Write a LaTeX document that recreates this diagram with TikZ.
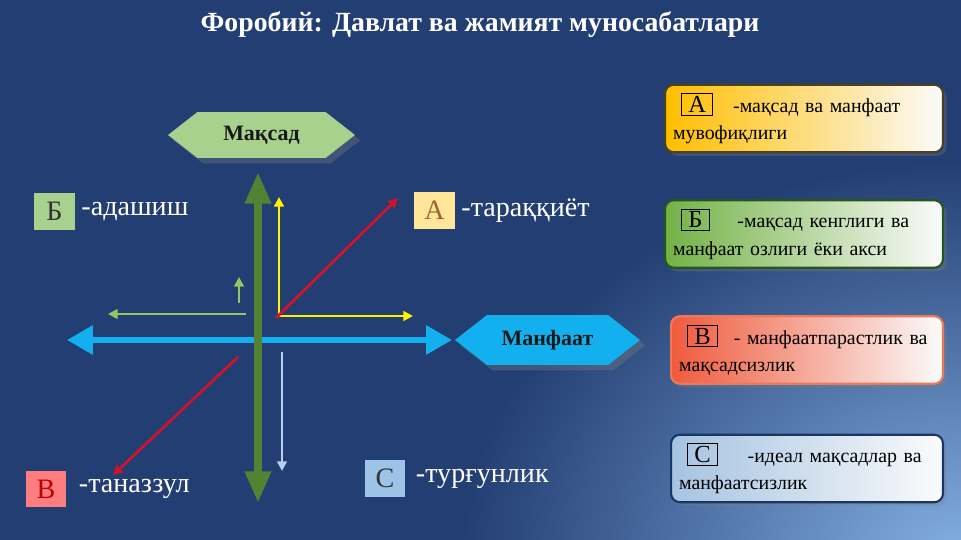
\documentclass[tikz,border=0pt]{standalone}
\usepackage{fontspec}
\setmainfont{Liberation Serif}
\usetikzlibrary{shapes.symbols, arrows.meta, positioning, shadows}

\definecolor{bgblue}{RGB}{35,62,114}
\definecolor{bglight}{RGB}{132,176,228}
\definecolor{goalgreen}{RGB}{169,209,142}
\definecolor{axisgreen}{RGB}{84,130,53}
\definecolor{benefitcyan}{RGB}{18,176,238}
\definecolor{palegreen}{RGB}{146,200,100}
\definecolor{arrowred}{RGB}{205,20,45}
\definecolor{paleblue}{RGB}{185,205,240}
\definecolor{lblgold}{RGB}{255,230,153}
\definecolor{lblred}{RGB}{255,124,128}
\definecolor{lblblue}{RGB}{157,195,230}

\newcommand{\bigfont}{\rmfamily\fontsize{16}{19}\selectfont}
\newcommand{\descfont}{\rmfamily\fontsize{11.3}{15.5}\selectfont}
\newcommand{\letterbox}[1]{{\setlength{\fboxsep}{1.2pt}\setlength{\fboxrule}{0.6pt}\hspace*{0.4em}\fbox{\fontsize{14}{14}\selectfont\,#1\,}}}

\tikzstyle{hexa} = [signal, signal to=east and west, signal pointer angle=76,
inner sep=0pt, font=\bfseries\fontsize{12.5}{15}\selectfont, text=black!90,
drop shadow={shadow xshift=3pt, shadow yshift=-3pt, opacity=0.35}]
\tikzstyle{letter} = [rectangle, minimum width=0.82cm, minimum height=0.74cm,
inner sep=0pt, font=\bigfont]
\tikzstyle{lbltext} = [text=white, font=\bigfont, inner sep=1pt, anchor=west]
\tikzstyle{descbox} = [rectangle, rounded corners=5pt, line width=1.2pt,
minimum width=5.56cm, minimum height=1.35cm, text width=5.24cm, align=left,
inner xsep=0.16cm, font=\descfont, text=black, anchor=west,
middle color=white!70!gray, right color=white!97!gray,
drop shadow={shadow xshift=2pt, shadow yshift=-2pt, opacity=0.3}]
\tikzstyle{thinarrow} = [line width=1.6pt, -{Triangle[length=5.5pt, width=5.5pt]}]

\begin{document}
\begin{tikzpicture}[x=0.02cm, y=-0.02cm]

% Background
\fill[bgblue] (0,0) rectangle (961,540);
\begin{scope}
\clip (0,0) rectangle (961,540);
\shade[inner color=bglight, outer color=bgblue] (961,560) ellipse (10cm and 8cm);
\end{scope}
\useasboundingbox (0,0) rectangle (961,540);

% Title
\node[text=white, font=\bfseries\fontsize{15.8}{18}\selectfont] (title) at (480,25)
{Форобий: Давлат ва жамият муносабатлари};

% Axis labels
\node[hexa, fill=goalgreen, minimum width=3.74cm, minimum height=0.92cm] (goal) at (261.5,135) {Мақсад};
\node[hexa, fill=benefitcyan, minimum width=3.7cm, minimum height=1cm] (benefit) at (547.5,340) {Манфаат};

% Coordinates
\coordinate (gtop) at (258,172);
\coordinate (gbot) at (258,503);
\coordinate (bleft) at (67,340);
\coordinate (bright) at (452,340);
\coordinate (yo) at (279,316);
\coordinate (yup) at (279,197);
\coordinate (yright) at (413,316);
\coordinate (ro) at (276,318);
\coordinate (rend) at (398,198);
\coordinate (go) at (246,314);
\coordinate (gleft) at (108,314);
\coordinate (gs) at (239,303);
\coordinate (gsup) at (239,277);
\coordinate (ro2) at (238,357);
\coordinate (rend2) at (113,475);
\coordinate (po) at (282,352);
\coordinate (pend) at (282,471);

% Arrows
\draw[benefitcyan, line width=3.4pt, {Triangle[length=14.7pt, width=15.9pt]}-{Triangle[length=14.7pt, width=15.9pt]}] (bleft) -- (bright);
\draw[axisgreen, line width=4.5pt, {Triangle[length=18pt, width=14pt]}-{Triangle[length=18pt, width=14pt]}] (gbot) -- (gtop);
\draw[thinarrow, yellow] (yo) -- (yup);
\draw[thinarrow, yellow] (yo) -- (yright);
\draw[thinarrow, arrowred] (ro) -- (rend);
\draw[thinarrow, palegreen] (go) -- (gleft);
\draw[thinarrow, palegreen] (gs) -- (gsup);
\draw[thinarrow, arrowred] (ro2) -- (rend2);
\draw[thinarrow, paleblue] (po) -- (pend);

% Quadrant labels
\node[letter, fill=goalgreen, text=black!80] (lblB) at (54.5,211.5) {Б};
\node[lbltext, right=0.08cm of lblB] (txtB) {-адашиш};
\node[letter, fill=lblgold, text=brown!80!black] (lblA) at (434.5,210.5) {А};
\node[lbltext, right=0.08cm of lblA] (txtA) {-тараққиёт};
\node[letter, fill=lblred, text=red!75!black] (lblV) at (46,489) {В};
\node[lbltext, right=0.2cm of lblV] (txtV) {-таназзул};
\node[letter, fill=lblblue, text=black!80] (lblC) at (385,478.5) {С};
\node[lbltext, right=0.16cm of lblC] (txtC) {-турғунлик};

% Legend
\node[descbox, draw={rgb,255:red,75;green,65;blue,30}, left color={rgb,255:red,255;green,190;blue,0}] (descA) at (664,118.5)
{\letterbox{А}\hspace{1em}-мақсад ва манфаат\\мувофиқлиги};
\node[descbox, draw={rgb,255:red,40;green,85;blue,30}, left color={rgb,255:red,115;green,178;blue,70}] (descB) at (664,234)
{\letterbox{Б}\hspace{1.4em}-мақсад кенглиги ва\\манфаат озлиги ёки акси};
\node[descbox, minimum width=5.44cm, text width=5.12cm, draw={rgb,255:red,240;green,120;blue,90}, left color={rgb,255:red,240;green,90;blue,60}] (descV) at (670,350)
{\letterbox{В}\hspace{0.8em}- манфаатпарастлик ва\\мақсадсизлик};
\node[descbox, minimum width=5.44cm, text width=5.12cm, draw={rgb,255:red,25;green,55;blue,100}, left color={rgb,255:red,165;green,195;blue,225}] (descC) at (670,468.5)
{\letterbox{С}\hspace{1.5em}-идеал мақсадлар ва\\манфаатсизлик};

\end{tikzpicture}
\end{document}
